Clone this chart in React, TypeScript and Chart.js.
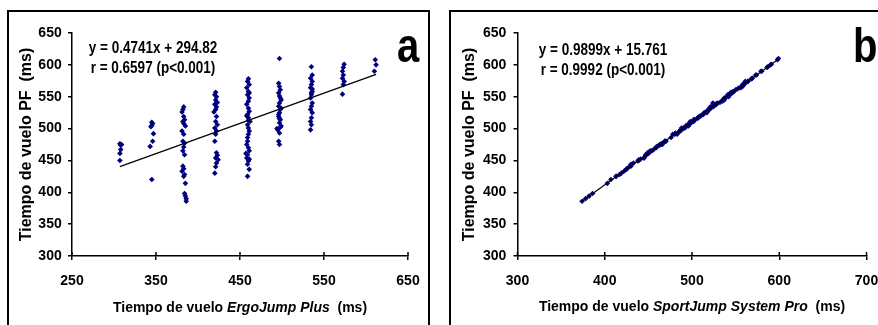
import React, { useEffect, useRef } from 'react';
import { Chart, registerables } from 'chart.js';

Chart.register(...registerables);

// ---------------- DATA ----------------
// Panel a: flight time measured with ErgoJump Plus (x) vs. force platform PF (y)
const ergoJump: number[] = [
  307, 309, 308, 308, 307, 307,
  345, 346, 345, 344, 347, 346, 343, 345,
  383, 382, 381, 383, 384, 382, 383, 385, 381, 383, 382, 384, 383, 382, 384, 382, 383, 381, 384, 383, 385, 384, 385, 386, 386,
  421, 420, 422, 421, 423, 420, 422, 421, 419, 422, 421, 423, 420, 422, 421, 420, 422, 423, 421, 424, 422, 421, 420,
  460, 459, 461, 458, 460, 459, 461, 460, 458, 460, 461, 459, 460, 462, 459, 460, 461, 460, 459, 458, 460, 461, 459, 458, 460, 459, 461, 459, 461, 458, 460, 459, 457, 461,
  497, 496, 497, 498, 496, 497, 499, 497, 496, 498, 497, 496, 498, 497, 499, 495, 497, 496, 497, 498, 499, 496, 497, 498, 494,
  535, 536, 534, 536, 535, 534, 536, 535, 534, 536, 535, 534, 536, 535, 534, 535, 534, 536, 535,
  574, 573, 572, 573, 572, 574, 573, 572,
  611, 612, 610,
];

// Flight time on the force platform (shared y values of both panels)
const pfTime: number[] = [
  476, 475, 474, 467, 461, 450,
  510, 508, 505, 503, 492, 480, 472, 420,
  534, 530, 526, 519, 514, 511, 508, 504, 496, 491, 480, 477, 471, 465, 459, 441, 437, 433, 428, 425, 414, 398, 394, 390, 386,
  557, 553, 550, 545, 541, 538, 534, 530, 526, 519, 511, 506, 501, 496, 491, 480, 462, 458, 454, 451, 446, 440, 430,
  578, 574, 569, 564, 558, 553, 548, 543, 538, 532, 527, 522, 517, 511, 506, 501, 496, 491, 480, 475, 470, 465, 459, 454, 449, 444, 436, 425, 556, 520, 513, 486, 461, 452,
  610, 571, 566, 561, 556, 551, 545, 540, 535, 530, 525, 519, 514, 509, 504, 498, 493, 480, 475, 548, 532, 522, 516, 502, 500,
  597, 584, 579, 574, 569, 564, 558, 553, 548, 540, 535, 530, 525, 517, 511, 506, 498, 562, 556,
  601, 596, 590, 584, 579, 574, 569, 554,
  608, 600, 590,
];

// Panel b: flight time measured with SportJump System Pro (x)
const sportJump: number[] = [
  465, 463, 463, 456, 450, 439,
  499, 498, 494, 493, 481, 469, 460, 407,
  524, 519, 516, 509, 503, 501, 498, 493, 486, 480, 470, 466, 459, 454, 448, 430, 425, 422, 417, 413, 403, 386, 382, 378, 374,
  545, 542, 542, 535, 532, 528, 521, 520, 517, 509, 502, 496, 488, 486, 483, 469, 449, 447, 445, 439, 433, 428, 419,
  568, 561, 559, 556, 548, 541, 537, 535, 527, 520, 517, 513, 507, 498, 496, 492, 486, 478, 470, 466, 459, 452, 447, 445, 438, 430, 425, 413, 546, 510, 502, 476, 450, 441,
  599, 561, 558, 550, 544, 541, 537, 529, 523, 519, 517, 508, 502, 498, 496, 487, 481, 469, 464, 538, 521, 512, 506, 491, 490,
  587, 574, 569, 564, 558, 554, 547, 543, 538, 524, 525, 520, 514, 507, 501, 495, 488, 552, 545,
  591, 586, 580, 573, 569, 564, 559, 544,
  598, 590, 579,
];

const regA = { slope: 0.4741, intercept: 294.82 };
const regB = { slope: 0.9899, intercept: 15.761 };
const eqA = ['y = 0.4741x + 294.82', 'r = 0.6597 (p<0.001)'];
const eqB = ['y = 0.9899x + 15.761', 'r = 0.9992 (p<0.001)'];

const yRange = { min: 300, max: 650, step: 50 };
const xRangeA = { min: 250, max: 650, step: 100 };
const xRangeB = { min: 300, max: 700, step: 100 };

const yTitle = 'Tiempo de vuelo PF  (ms)';
const xTitleA: [string, boolean][] = [['Tiempo de vuelo ', false], ['ErgoJump Plus', true], ['  (ms)', false]];
const xTitleB: [string, boolean][] = [['Tiempo de vuelo ', false], ['SportJump System Pro', true], ['  (ms)', false]];

// ---------------- DRAWING ----------------
const FONT = '"Liberation Sans", Arial, Helvetica, sans-serif';
const NAVY = '#000080';

const decorPlugin = {
  id: 'decor',
  afterDraw(chart: any, _args: any, opts: any) {
    const ctx = chart.ctx as CanvasRenderingContext2D;
    const xs = chart.scales.x;
    const area = chart.chartArea;
    ctx.save();
    // inner half of crossing x tick marks
    ctx.strokeStyle = '#000';
    ctx.lineWidth = 1.5;
    xs.ticks.forEach((t: any) => {
      const px = xs.getPixelForValue(t.value);
      ctx.beginPath();
      ctx.moveTo(px, area.bottom);
      ctx.lineTo(px, area.bottom - 4);
      ctx.stroke();
    });
    ctx.fillStyle = '#000';
    // regression text
    ctx.textAlign = 'center';
    ctx.textBaseline = 'alphabetic';
    (opts.eq as string[]).forEach((line, i) => {
      ctx.save();
      ctx.translate(opts.eqX, opts.eqY[i]);
      ctx.scale(1, 1.18);
      ctx.font = `bold 13.5px ${FONT}`;
      ctx.fillText(line, 0, 0);
      ctx.restore();
    });
    // panel letter
    ctx.save();
    ctx.translate(opts.letterX, opts.letterY);
    ctx.scale(1, 1.2);
    ctx.textAlign = 'left';
    ctx.font = `bold 40px ${FONT}`;
    ctx.fillText(opts.letter, 0, 0);
    ctx.restore();
    // x axis title (mixed upright / italic)
    const parts = opts.title as [string, boolean][];
    const fontFor = (it: boolean) => `${it ? 'italic ' : ''}bold 14px ${FONT}`;
    let total = 0;
    const widths = parts.map(([s, it]) => {
      ctx.font = fontFor(it);
      const w = ctx.measureText(s).width;
      total += w;
      return w;
    });
    let x = (area.left + area.right) / 2 - total / 2;
    ctx.textAlign = 'left';
    parts.forEach(([s, it], i) => {
      ctx.save();
      ctx.translate(x, opts.titleY);
      ctx.scale(1, 1.1);
      ctx.font = fontFor(it);
      ctx.fillText(s, 0, 0);
      ctx.restore();
      x += widths[i];
    });
    ctx.restore();
  },
};

type PanelProps = {
  xs: number[];
  ys: number[];
  reg: { slope: number; intercept: number };
  xRange: { min: number; max: number; step: number };
  width: number;
  yAxisWidth: number;
  padRight: number;
  yTitlePad: number;
  yTickPad: number;
  decor: any;
};

function ScatterPanel(p: PanelProps) {
  const ref = useRef<HTMLCanvasElement | null>(null);
  useEffect(() => {
    if (!ref.current) return;
    const pts = p.xs.map((x, i) => ({ x, y: p.ys[i] }));
    const xMin = Math.min(...p.xs);
    const xMax = Math.max(...p.xs);
    const line = [xMin, xMax].map((x) => ({ x, y: p.reg.slope * x + p.reg.intercept }));
    const tickFont = { family: FONT, size: 14, weight: 'bold' as const };
    const chart = new Chart(ref.current, {
      type: 'scatter',
      data: {
        datasets: [
          {
            type: 'line' as any,
            data: line,
            borderColor: '#000',
            borderWidth: 1.2,
            pointRadius: 0,
            showLine: true,
            fill: false,
            order: 0,
          } as any,
          {
            data: pts,
            pointStyle: 'rectRot',
            pointRadius: 2.8,
            backgroundColor: NAVY,
            borderColor: NAVY,
            borderWidth: 0,
            order: 1,
          } as any,
        ],
      },
      options: {
        responsive: false,
        maintainAspectRatio: false,
        animation: false,
        events: [],
        layout: { padding: { top: 33, right: p.padRight, left: 0, bottom: 0 } },
        plugins: {
          legend: { display: false },
          tooltip: { enabled: false },
          decor: p.decor,
        } as any,
        scales: {
          x: {
            type: 'linear',
            min: p.xRange.min,
            max: p.xRange.max,
            ticks: {
              stepSize: p.xRange.step,
              font: tickFont,
              color: '#000',
              padding: 13,
              maxRotation: 0,
              autoSkip: false,
            },
            grid: { display: true, drawOnChartArea: false, drawTicks: true, tickLength: 4, color: '#000', lineWidth: 1.5 },
            border: { display: true, color: '#000', width: 1.5 },
            title: { display: false },
            afterFit: (s: any) => {
              s.height = 69;
            },
          },
          y: {
            type: 'linear',
            min: yRange.min,
            max: yRange.max,
            ticks: {
              stepSize: yRange.step,
              font: tickFont,
              color: '#000',
              padding: p.yTickPad,
              autoSkip: false,
            },
            grid: { display: true, drawOnChartArea: false, drawTicks: true, tickLength: 4, color: '#000', lineWidth: 1.5 },
            border: { display: true, color: '#000', width: 1.5 },
            title: {
              display: true,
              text: yTitle,
              color: '#000',
              font: { family: FONT, size: 16, weight: 'bold' },
              padding: { top: p.yTitlePad, bottom: 0 },
            },
            afterFit: (s: any) => {
              s.width = p.yAxisWidth;
            },
          },
        },
      } as any,
      plugins: [decorPlugin],
    });
    return () => chart.destroy();
  }, []);
  return (
    <canvas
      ref={ref}
      width={p.width}
      height={325}
      style={{ width: p.width, height: 325, display: 'block' }}
    />
  );
}

export default function App() {
  return (
    <div
      style={{
        position: 'fixed',
        left: 0,
        top: 0,
        width: 878,
        height: 325,
        overflow: 'hidden',
        background: '#fff',
      }}
    >
      <div
        style={{
          position: 'absolute',
          left: 7,
          top: 10,
          width: 423,
          height: 340,
          border: '2px solid #000',
          boxSizing: 'border-box',
        }}
      />
      <div
        style={{
          position: 'absolute',
          left: 449,
          top: 10,
          width: 460,
          height: 340,
          border: '2px solid #000',
          boxSizing: 'border-box',
        }}
      />
      <div style={{ position: 'absolute', left: 0, top: 0 }}>
        <ScatterPanel
          xs={ergoJump}
          ys={pfTime}
          reg={regA}
          xRange={xRangeA}
          width={440}
          yAxisWidth={72}
          padRight={32}
          yTitlePad={17.4}
          yTickPad={6.3}
          decor={{ eq: eqA, eqX: 153, eqY: [53, 72.5], letter: 'a', letterX: 397, letterY: 62, title: xTitleA, titleY: 312 }}
        />
      </div>
      <div style={{ position: 'absolute', left: 440, top: 0 }}>
        <ScatterPanel
          xs={sportJump}
          ys={pfTime}
          reg={regB}
          xRange={xRangeB}
          width={460}
          yAxisWidth={77.5}
          padRight={33.5}
          yTitlePad={20.1}
          yTickPad={7.2}
          decor={{ eq: eqB, eqX: 163, eqY: [55, 75], letter: 'b', letterX: 413, letterY: 62, title: xTitleB, titleY: 311 }}
        />
      </div>
    </div>
  );
}
